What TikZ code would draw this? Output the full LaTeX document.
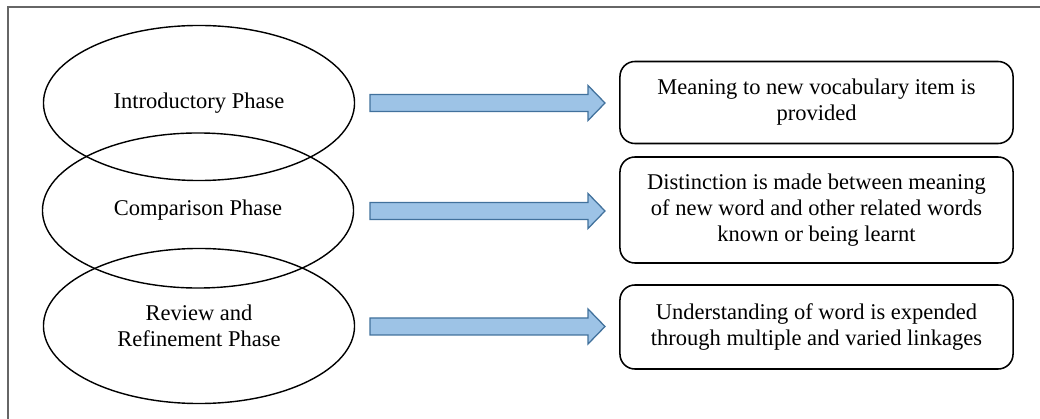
\documentclass[tikz,border=0pt]{standalone}
\usepackage{fontspec}
\setmainfont{Liberation Serif}
\usepackage{xcolor}
\usepackage{tikz}
\usetikzlibrary{shapes.geometric,positioning}
\definecolor{arrowfill}{HTML}{9DC3E6}
\definecolor{arrowline}{HTML}{41719C}

\begin{document}
\begin{tikzpicture}[x=0.025cm,y=-0.025cm,font=\fontsize{16}{18.5}\selectfont,
phase/.style={ellipse,draw,line width=1pt,minimum width=7.775cm,minimum height=3.875cm,align=center},
stage/.style={draw,rounded corners=0.375cm,line width=1.1pt,minimum width=9.825cm,align=center},
bigarrow/.style={draw=arrowline,fill=arrowfill,line width=0.9pt,line join=miter}]
\clip(0,0)rectangle(1040,419);
\draw[black!60,line width=1.4pt](8,7)rectangle(1060,440);
% phases
\node[phase](intro)at(199,103){Introductory Phase};
\node[phase](comp)at(198,210.5){Comparison Phase};
\node[phase](review)at(199,326){Review and\\Refinement Phase};
% what happens in each phase
\node[stage,minimum height=2.05cm](meaning)at(816.5,102.5){Meaning to new vocabulary item is\\provided};
\node[stage,minimum height=2.65cm](distinct)at(816.5,210){Distinction is made between meaning\\of new word and other related words\\known or being learnt};
\node[stage,minimum height=2.1cm](understand)at(816.5,327){Understanding of word is expended\\through multiple and varied linkages};
% block arrows
\foreach \y in {103,211,326.5}
\draw[bigarrow](370,\y-8.5)--(588,\y-8.5)--(588,\y-17.5)--(605,\y)--(588,\y+17.5)--(588,\y+8.5)--(370,\y+8.5)--cycle;
\end{tikzpicture}
\end{document}
